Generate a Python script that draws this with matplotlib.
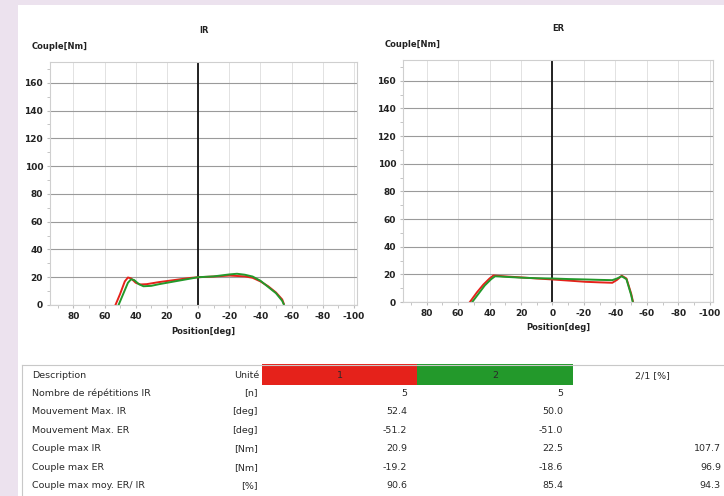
import matplotlib.pyplot as plt
from matplotlib.patches import Rectangle
import numpy as np

plt.rcParams['axes.unicode_minus'] = False

# couleurs des deux séries
RED = '#e5221b'
GREEN = '#23992b'

# IR : position [deg] / couple [Nm]
ir_red_pos = [53, 50, 47, 45, 43, 40, 37, 33, 25, 15, 5, 0, -10, -20, -25, -30, -35, -40, -45, -50, -54, -55]
ir_red_val = [0, 8, 17, 19.8, 19.2, 16, 14.8, 15, 16.5, 18, 19.5, 20, 20.5, 21.2, 20.9, 20.6, 19.6, 17, 13.5, 9, 4, 1]
ir_green_pos = [51, 48, 45, 43, 41, 38, 35, 30, 25, 15, 5, 0, -10, -20, -25, -30, -35, -40, -45, -50, -54, -55]
ir_green_val = [0, 8, 16, 18.5, 18, 15, 13.5, 13.8, 15, 17, 19, 20, 20.6, 22, 22.5, 21.8, 20.5, 17.5, 13, 8.5, 3, 0.5]

# ER : position [deg] / couple [Nm]
er_red_pos = [52.5, 48, 44, 40, 37.5, 30, 20, 10, 0, -10, -21, -30, -38, -41, -44, -47, -50, -51.2]
er_red_val = [0, 7, 12.5, 17, 19.2, 18.5, 17.8, 17, 16.3, 15.5, 14.6, 14.2, 13.9, 16, 19, 17, 6, 0]
er_green_pos = [51, 47, 43, 39, 36.5, 30, 20, 10, 0, -10, -21, -30, -38, -41, -44, -47, -50, -51]
er_green_val = [0, 6, 12, 16.5, 18.6, 18.2, 17.6, 17.2, 17, 16.6, 16.3, 16, 15.8, 17, 18.6, 16.5, 5, 0]

x_ticks = [80, 60, 40, 20, 0, -20, -40, -60, -80, -100]
y_ticks = [0, 20, 40, 60, 80, 100, 120, 140, 160]

# tableau
descriptions = ['Nombre de répétitions IR', 'Mouvement Max. IR', 'Mouvement Max. ER',
                'Couple max IR', 'Couple max ER', 'Couple max moy. ER/ IR']
unites = ['[n]', '[deg]', '[deg]', '[Nm]', '[Nm]', '[%]']
col_1 = ['5', '52.4', '-51.2', '20.9', '-19.2', '90.6']
col_2 = ['5', '50.0', '-51.0', '22.5', '-18.6', '85.4']
ratio = ['', '', '', '107.7', '96.9', '94.3']

W, H = 724, 496


def box(l, t, r, b):
    # pixels -> fraction de figure
    return [l / W, 1 - b / H, (r - l) / W, (b - t) / H]


def draw_panel(ax, title, red_pos, red_val, green_pos, green_val):
    ax.set_xlim(95, -102)
    ax.set_ylim(0, 175)
    ax.set_xticks(x_ticks)
    ax.set_yticks(y_ticks)
    ax.set_xticks(np.arange(90, -101, -10), minor=True)
    ax.set_yticks(np.arange(10, 175, 10), minor=True)
    ax.grid(axis='y', which='major', color='#9a9a9a', linewidth=0.8)
    ax.grid(axis='x', which='major', color='#e2e2e2', linewidth=0.7)
    ax.set_axisbelow(True)
    for s in ax.spines.values():
        s.set_color('#cfcfcf')
        s.set_linewidth(0.8)
    ax.tick_params(which='both', length=2, color='#bbbbbb', labelsize=6.5, pad=3)
    for lab in ax.get_xticklabels() + ax.get_yticklabels():
        lab.set_fontweight('bold')
        lab.set_color('#222222')
    ax.axvline(0, color='#111111', linewidth=1.3)
    ax.plot(red_pos, red_val, color=RED, linewidth=1.4)
    ax.plot(green_pos, green_val, color=GREEN, linewidth=1.4)
    ax.set_xlabel('Position[deg]', fontsize=6, fontweight='bold', color='#222222', labelpad=4)
    ax.set_title(title, fontsize=6, fontweight='bold', color='#222222', pad=21)
    ax.text(-0.06, 1.045, 'Couple[Nm]', transform=ax.transAxes, fontsize=6,
            fontweight='bold', color='#222222', ha='left', va='bottom')


fig = plt.figure(figsize=(W / 100, H / 100), dpi=100)
fig.patch.set_facecolor('#ece2ee')
fig.add_artist(Rectangle((18 / W, 0), 1 - 18 / W, 1 - 5 / H, transform=fig.transFigure,
                         facecolor='white', edgecolor='none', zorder=0))

ax1 = fig.add_axes(box(50, 62, 357, 305))
draw_panel(ax1, 'IR', ir_red_pos, ir_red_val, ir_green_pos, ir_green_val)
ax2 = fig.add_axes(box(403, 60, 713, 302))
draw_panel(ax2, 'ER', er_red_pos, er_red_val, er_green_pos, er_green_val)

# tableau en coordonnées pixels
tab = fig.add_axes([0, 0, 1, 1])
tab.set_xlim(0, W)
tab.set_ylim(H, 0)
tab.axis('off')
tab.patch.set_alpha(0)

tab.plot([22, 724], [365, 365], color='#c8c8c8', linewidth=0.8)
tab.plot([22, 22], [365, 496], color='#c8c8c8', linewidth=0.8)
tab.add_patch(Rectangle((262, 364), 155, 21, facecolor=RED, edgecolor='none'))
tab.add_patch(Rectangle((417, 364), 156, 21, facecolor=GREEN, edgecolor='none'))

font = dict(fontsize=6.8, color='#2a2a2a', va='center')
head_y = 376
tab.text(32, head_y, 'Description', ha='left', **font)
tab.text(259, head_y, 'Unité', ha='right', **font)
tab.text(340, head_y, '1', ha='center', **font)
tab.text(495, head_y, '2', ha='center', **font)
tab.text(652, head_y, '2/1 [%]', ha='center', **font)

row_y = 393
for i in range(len(descriptions)):
    y = row_y + i * 18.6
    tab.text(32, y, descriptions[i], ha='left', **font)
    tab.text(258, y, unites[i], ha='right', **font)
    tab.text(407, y, col_1[i], ha='right', **font)
    tab.text(563, y, col_2[i], ha='right', **font)
    tab.text(721, y, ratio[i], ha='right', **font)

fig.savefig('out.png', dpi=100)
